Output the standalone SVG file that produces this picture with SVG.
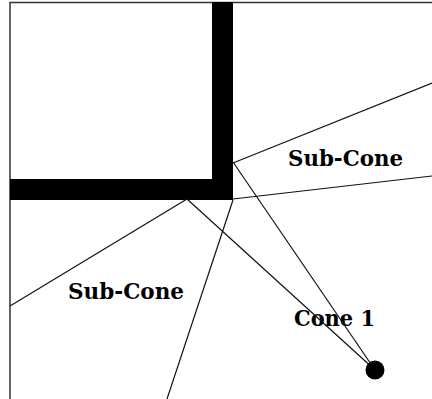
<svg xmlns="http://www.w3.org/2000/svg" width="432" height="399" viewBox="0 0 432 399">
<style>
.frame{fill:none;stroke:#333;stroke-width:1.5}
.wall{fill:#000}
.ray{stroke:#111;stroke-width:1.2;fill:none}
.lbl{font-family:"DejaVu Serif","Liberation Serif",serif;font-weight:bold;font-size:22px;fill:#000}
</style>
<rect width="432" height="399" fill="#fff"/>
<g id="frame">
<polyline class="frame" points="10,399 10,2.5 432,2.5"/>
</g>
<g id="walls">
<rect class="wall" x="212" y="2" width="21" height="198"/>
<rect class="wall" x="10" y="179" width="223" height="21"/>
</g>
<g id="labels">
<text id="subcone-upper" class="lbl" x="288" y="166" textLength="115" lengthAdjust="spacingAndGlyphs">Sub-Cone</text>
<text id="subcone-lower" class="lbl" x="68" y="299" textLength="116" lengthAdjust="spacingAndGlyphs">Sub-Cone</text>
<text id="cone1" class="lbl" x="294" y="326" textLength="81" lengthAdjust="spacingAndGlyphs">Cone 1</text>
</g>
<g id="connectors">
<line class="ray" x1="233" y1="163" x2="432" y2="83"/>
<line class="ray" x1="233" y1="199" x2="432" y2="176"/>
<line class="ray" x1="233" y1="162" x2="375" y2="370"/>
<line class="ray" x1="187" y1="199" x2="375" y2="370"/>
<line class="ray" x1="187" y1="199" x2="10" y2="306"/>
<line class="ray" x1="233" y1="200" x2="167" y2="399"/>
</g>
<g id="source">
<circle cx="375" cy="370" r="9.5" fill="#000"/>
</g>
</svg>
